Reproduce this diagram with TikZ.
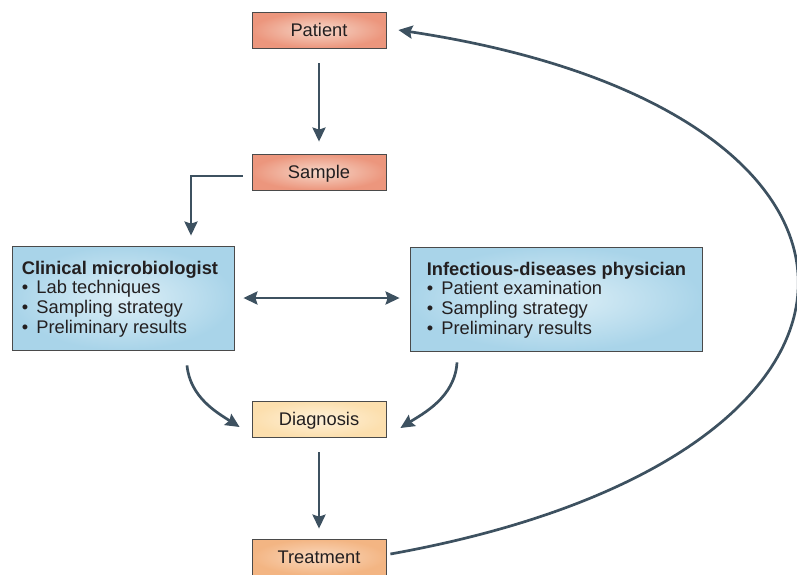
\documentclass[tikz,border=0pt]{standalone}
\usepackage{fontspec}
\setmainfont{Liberation Sans}
\usetikzlibrary{arrows.meta,calc}
\definecolor{arrowc}{HTML}{3D5160}
\definecolor{salmonout}{HTML}{EC967D}
\definecolor{salmonin}{HTML}{F6D8CA}
\definecolor{blueout}{HTML}{A9D4E9}
\definecolor{bluein}{HTML}{DDEFF7}
\definecolor{diaout}{HTML}{FCDFAE}
\definecolor{diain}{HTML}{FEF1DA}
\definecolor{trout}{HTML}{F3B583}
\definecolor{trin}{HTML}{FAD9BF}
\definecolor{txt}{HTML}{231F20}
\definecolor{edge}{HTML}{4A4A4A}
\newcommand{\bul}{\textbullet\hspace{0.45em}}
\tikzset{
  boxbase/.style={draw=edge, line width=0.8pt, inner sep=0pt, text=txt,
    font=\fontsize{18.3}{19.7}\selectfont},
  smallbox/.style={boxbase, minimum width=134pt, minimum height=36pt, text height=13pt, text depth=0pt},
  salmonbox/.style={smallbox, shading=radial, inner color=salmonin, outer color=salmonout},
  diabox/.style={smallbox, shading=radial, inner color=diain, outer color=diaout},
  trbox/.style={smallbox, shading=radial, inner color=trin, outer color=trout},
  bluebox/.style={boxbase, shading=radial, inner color=bluein, outer color=blueout},
  boxtext/.style={inner sep=0pt, align=left, text=txt, anchor=west,
    font=\fontsize{18.3}{19.7}\selectfont},
  arr/.style={draw=arrowc, line width=2.7pt,
    -{Stealth[length=14pt,width=13pt,inset=2pt]}},
  darr/.style={draw=arrowc, line width=2.7pt,
    {Stealth[length=14pt,width=13pt,inset=2pt]}-{Stealth[length=14pt,width=13pt,inset=2pt]}},
}
\begin{document}
\begin{tikzpicture}[x=1pt,y=-1pt]
\useasboundingbox (0,0) rectangle (797,574);
\clip (0,0) rectangle (797,574);

\node[salmonbox] (pat) at (319,30) {Patient};
\node[salmonbox] (sam) at (319,172) {Sample};
\node[diabox] (dia) at (319,419) {Diagnosis};
\node[trbox] (tr) at (319,557) {Treatment};

\node[bluebox, minimum width=222pt, minimum height=104pt] (cm) at (123,298) {};
\node[boxtext] (cmt) at ([xshift=10pt,yshift=-1pt]cm.west)
  {\textbf{Clinical microbiologist}\\ \bul Lab techniques\\ \bul Sampling strategy\\ \bul Preliminary results};

\node[bluebox, minimum width=292pt, minimum height=104pt] (id) at (556,299) {};
\node[boxtext] (idt) at ([xshift=17pt,yshift=-1pt]id.west)
  {\textbf{Infectious-diseases physician}\\ \bul Patient examination\\ \bul Sampling strategy\\ \bul Preliminary results};

% arrows
\draw[arr] ([yshift=-15pt]pat.south) -- ([yshift=12pt]sam.north);
\draw[arr] ([xshift=-9pt,yshift=-4pt]sam.west) -| ([xshift=68pt,yshift=10pt]cm.north);
\draw[darr] ([xshift=9pt]cm.east) -- ([xshift=-10pt]id.west |- cm.east);
\draw[arr] ([xshift=64pt,yshift=-15pt]cm.south) .. controls +(3,32) and +(-22,-14) .. ([xshift=-12pt,yshift=-8pt]dia.west);
\draw[arr] ([xshift=-99pt,yshift=-11pt]id.south) .. controls +(-2,35) and +(22,-14) .. ([xshift=14pt,yshift=-9pt]dia.east);
\draw[arr] ([yshift=-15pt]dia.south) -- ([yshift=10pt]tr.north);
\draw[arr] ([xshift=4pt,yshift=3pt]tr.east) .. controls (931,457) and (931,110) .. ([xshift=12pt]pat.east);
\end{tikzpicture}
\end{document}
